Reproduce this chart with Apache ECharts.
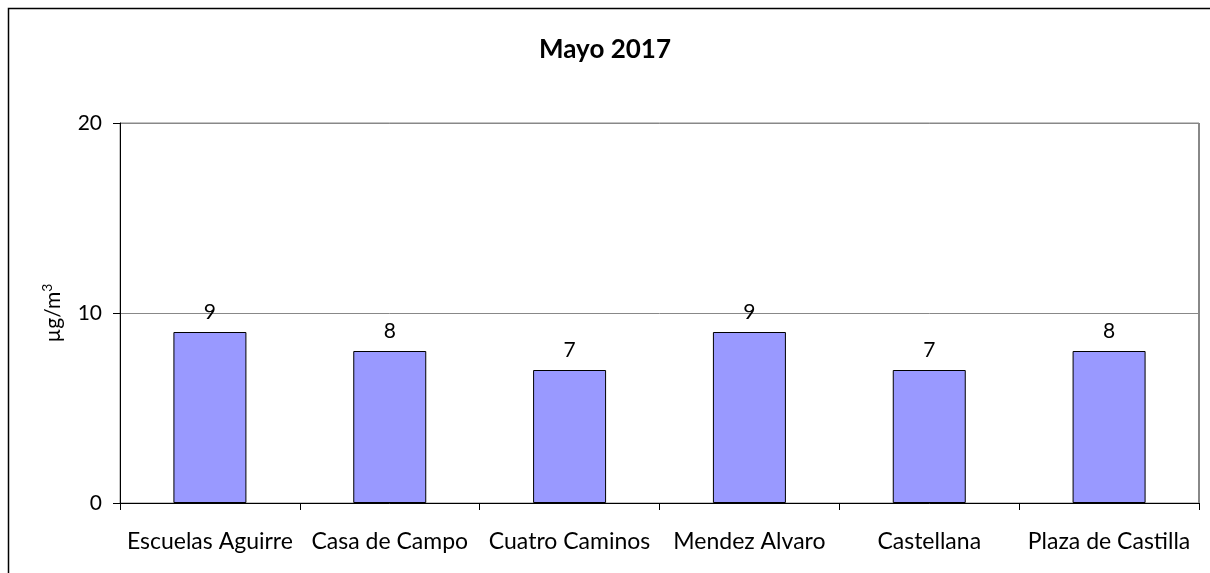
<!DOCTYPE html>
<html>
<head>
<meta charset="utf-8">
<script src="https://cdn.jsdelivr.net/npm/echarts@6/dist/echarts.min.js"></script>
<style>html,body{margin:0;padding:0;background:#fff;}#c{width:1210px;height:573px;}</style>
</head>
<body>
<div id="c"></div>
<script>
const categories = ['Escuelas Aguirre', 'Casa de Campo', 'Cuatro Caminos', 'Mendez Alvaro', 'Castellana', 'Plaza de Castilla'];
const values = [9, 8, 7, 9, 7, 8];
const yTicks = [0, 10, 20];
const titleText = 'Mayo 2017';

const FONT = 'Lato, "Open Sans", sans-serif';
const chart = echarts.init(document.getElementById('c'), null, {renderer: 'canvas'});
chart.setOption({
  animation: false,
  backgroundColor: '#fff',
  title: {
    text: titleText, left: 'center', top: 32,
    textStyle: {fontFamily: FONT, fontWeight: 'bold', fontSize: 26, color: '#000'}
  },
  graphic: [
    {type: 'rect', shape: {x: 8.5, y: 8.5, width: 1400, height: 800}, style: {fill: 'none', stroke: '#000', lineWidth: 1.5}, silent: true},
    {type: 'line', shape: {x1: 1199, y1: 123, x2: 1199, y2: 503}, style: {stroke: '#888', lineWidth: 2}, silent: true}
  ],
  grid: {left: 120, right: 11, top: 123, bottom: 70, show: true, borderColor: '#888', borderWidth: 1},
  xAxis: {
    type: 'category', data: categories,
    axisLine: {lineStyle: {color: '#000', width: 1}},
    axisTick: {show: true, alignWithLabel: false, length: 7, lineStyle: {color: '#000'}},
    axisLabel: {color: '#000', fontFamily: FONT, fontSize: 23, margin: 27, interval: 0}
  },
  yAxis: {
    type: 'value', min: yTicks[0], max: yTicks[yTicks.length - 1], interval: 10,
    name: '{a|µg/m}{b|3}', nameLocation: 'middle', nameGap: 54, nameRotate: 90,
    nameTextStyle: {
      rich: {
        a: {fontFamily: FONT, fontSize: 21, color: '#000'},
        b: {fontFamily: FONT, fontSize: 14, color: '#000', verticalAlign: 'top', padding: [0, 0, 12, 0]}
      }
    },
    axisLine: {show: true, lineStyle: {color: '#000', width: 1}},
    axisTick: {show: true, length: 7, lineStyle: {color: '#000'}},
    axisLabel: {color: '#000', fontFamily: FONT, fontSize: 21, margin: 18},
    splitLine: {show: true, lineStyle: {color: '#888', width: 1}}
  },
  series: [{
    type: 'bar', data: values, barWidth: 73,
    itemStyle: {color: '#9999FF', borderColor: '#000', borderWidth: 1},
    label: {show: true, position: 'top', distance: 9, color: '#000', fontFamily: FONT, fontSize: 21}
  }]
});
</script>
</body>
</html>
